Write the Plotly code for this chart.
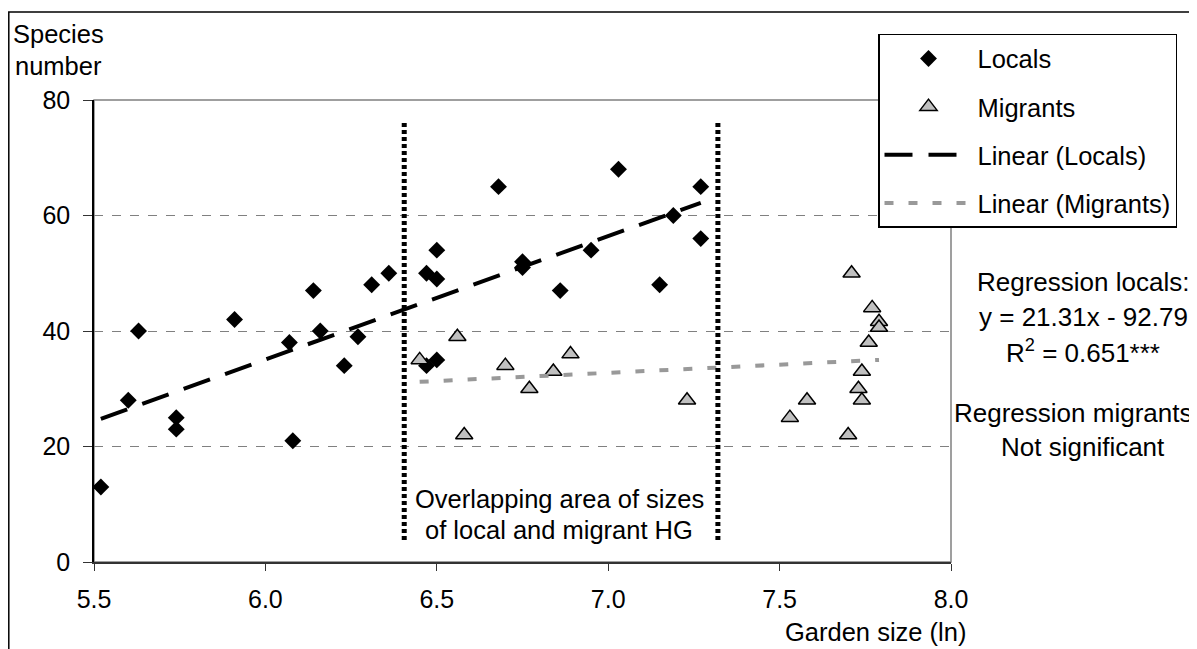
import plotly.graph_objects as go

# ---------------- data ----------------
locals_x = [5.52, 5.60, 5.63, 5.74, 5.74, 5.91, 6.07, 6.08, 6.14, 6.16, 6.23, 6.27, 6.31, 6.36,
            6.47, 6.47, 6.50, 6.50, 6.50, 6.68, 6.75, 6.75, 6.86, 6.95, 7.03, 7.15, 7.19, 7.27, 7.27]
locals_y = [13, 28, 40, 25, 23, 42, 38, 21, 47, 40, 34, 39, 48, 50,
            50, 34, 49, 54, 35, 65, 52, 51, 47, 54, 68, 48, 60, 65, 56]

migrants_x = [6.45, 6.56, 6.58, 6.70, 6.77, 6.84, 6.89, 7.23, 7.53, 7.58,
              7.70, 7.71, 7.73, 7.74, 7.74, 7.76, 7.77, 7.79, 7.79]
migrants_y = [35, 39, 22, 34, 30, 33, 36, 28, 25, 28,
              22, 50, 30, 33, 28, 38, 44, 41.6, 40.6]

locals_trend_x = [5.52, 7.27]
locals_trend_y = [24.8, 62.2]
migrants_trend_x = [6.45, 7.79]
migrants_trend_y = [31.2, 35.0]

overlap_x = [6.405, 7.32]
overlap_y = [3.8, 76]

x_ticks = [5.5, 6.0, 6.5, 7.0, 7.5, 8.0]
y_ticks = [0, 20, 40, 60, 80]

FONT = "Liberation Sans, Arial, sans-serif"
FS = 25.5

fig = go.Figure()

fig.add_trace(go.Scatter(
    x=locals_x, y=locals_y, mode="markers", name="Locals", legendgroup="a",
    marker=dict(symbol="diamond", size=13, color="black", line=dict(width=0)),
))
fig.add_trace(go.Scatter(
    x=migrants_x, y=migrants_y, mode="markers", name="Migrants", legendgroup="b",
    marker=dict(symbol="triangle-up", size=15, color="#c0c0c0", line=dict(width=1.5, color="black")),
))
fig.add_trace(go.Scatter(
    x=locals_trend_x, y=locals_trend_y, mode="lines", name="Linear (Locals)", legendgroup="c",
    line=dict(color="black", width=4, dash="28px,16px"),
))
fig.add_trace(go.Scatter(
    x=migrants_trend_x, y=migrants_trend_y, mode="lines", name="Linear (Migrants)", legendgroup="d",
    line=dict(color="#999999", width=4, dash="9px,15px"),
))

# vertical dotted boundaries of the overlapping area
for xv in overlap_x:
    fig.add_trace(go.Scatter(
        x=[xv, xv], y=overlap_y, mode="lines", showlegend=False, hoverinfo="skip",
        line=dict(color="black", width=5, dash="4px,3px"),
    ))

# page pixel -> paper coordinate helpers (plot area: x 94..951, y 100..561.5 on the page)
def px(p):
    return (p - 94) / 857.0

def py(p):
    return (561.5 - p) / 461.5

# plot-area frame (gray) and outer chart frame (black)
fig.add_shape(type="rect", xref="paper", yref="paper", x0=0, x1=1, y0=0, y1=1,
              line=dict(color="#808080", width=1.5), layer="below")
fig.add_shape(type="rect", xref="paper", yref="paper", x0=px(8.8), x1=1.4, y0=-0.4, y1=py(12),
              line=dict(color="black", width=1.5))

ann = []
def add_text(x, y, text, xref="paper", yref="paper", xanchor="center", size=FS):
    ann.append(dict(x=x, y=y, xref=xref, yref=yref, text=text, showarrow=False,
                    xanchor=xanchor, yanchor="middle", font=dict(family=FONT, size=size, color="black")))

add_text(px(58), py(34), "Species")
add_text(px(58), py(66), "number")
add_text(px(968), py(631), "Garden size (ln)", xanchor="right")
add_text(6.857, (561.5 - 499) / 5.77, "Overlapping area of sizes", xref="x", yref="y")
add_text(6.857, (561.5 - 530) / 5.77, "of local and migrant HG", xref="x", yref="y")
add_text(px(1083), py(282), "Regression locals:", size=26)
add_text(px(1083), py(317), "y = 21.31x - 92.79", size=26)
add_text(px(1083), py(351), "R<sup>2</sup> = 0.651***", size=26)
add_text(px(1077), py(413), "Regression migrants:", size=26)
add_text(px(1083), py(447), "Not significant", size=26)

# the page body adds an 8 px offset, so the figure is 8 px smaller than the window
fig.update_layout(
    width=1189, height=641,
    margin=dict(l=86, r=246, t=92, b=87),
    paper_bgcolor="white", plot_bgcolor="white",
    font=dict(family=FONT, size=FS, color="black"),
    annotations=ann,
    legend=dict(
        x=px(878), y=py(34), xanchor="left", yanchor="top",
        bgcolor="white", bordercolor="black", borderwidth=1.5,
        font=dict(family=FONT, size=FS, color="black"),
        tracegroupgap=12, itemwidth=88,
    ),
    xaxis=dict(
        range=[5.5, 8.0], tickvals=x_ticks, ticktext=[f"{v:.1f}" for v in x_ticks],
        showgrid=False, zeroline=False, showline=True, linecolor="#333333", linewidth=2,
        ticks="outside", ticklen=7, tickcolor="#333333", tickwidth=1,
        ticklabelstandoff=7,
        tickfont=dict(family=FONT, size=25, color="black"),
    ),
    yaxis=dict(
        range=[0, 80], tickvals=y_ticks,
        showgrid=True, gridcolor="#808080", gridwidth=1.2, griddash="dash",
        zeroline=False, showline=True, linecolor="black", linewidth=1.5,
        ticks="outside", ticklen=9, tickcolor="#333333", tickwidth=1,
        ticklabelstandoff=8,
        tickfont=dict(family=FONT, size=25, color="black"),
    ),
)

fig.write_html("out.html")
